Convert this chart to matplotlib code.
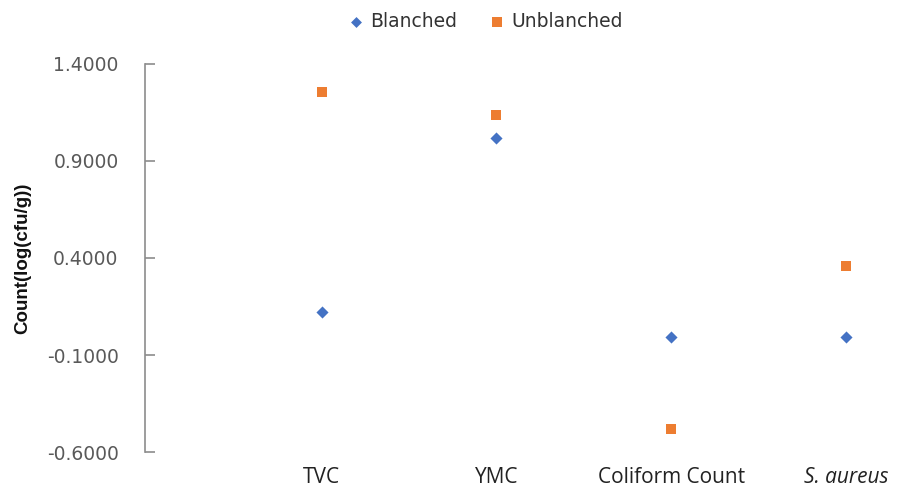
import matplotlib
matplotlib.use("Agg")
import matplotlib.pyplot as plt
from matplotlib.ticker import FixedLocator, FuncFormatter

categories = ["TVC", "YMC", "Coliform Count", "S. aureus"]
blanched = [0.122, 1.019, -0.007, -0.007]
unblanched = [1.256, 1.137, -0.481, 0.359]
yticks = [-0.6, -0.1, 0.4, 0.9, 1.4]

blue = "#4472C4"
orange = "#ED7D31"

fig = plt.figure(figsize=(9.06, 4.91), dpi=100)
ax = fig.add_axes([0.160, 0.0794, 0.830, 0.7903])

xs = list(range(1, len(categories) + 1))
ax.scatter(xs, blanched, marker="D", s=38, color=blue, label="Blanched", zorder=3, linewidths=0)
ax.scatter(xs, unblanched, marker="s", s=60, color=orange, label="Unblanched", zorder=3, linewidths=0)

ax.set_xlim(-0.01, 4.29)
ax.set_ylim(-0.6, 1.4)
ax.yaxis.set_major_locator(FixedLocator(yticks))
ax.yaxis.set_major_formatter(FuncFormatter(lambda v, p: f"{v:.4f}"))
ax.set_xticks(xs)
ax.set_xticklabels(categories, family="Open Sans", fontsize=15, color="#222222")
ax.get_xticklabels()[3].set_style("italic")

for s in ["top", "right", "bottom"]:
    ax.spines[s].set_visible(False)
ax.spines["left"].set_color("#8c8c8c")
ax.spines["left"].set_linewidth(1.2)
ax.tick_params(axis="y", direction="in", length=7, width=1.2, color="#8c8c8c",
               pad=19, labelsize=13.5, labelcolor="#595959")
ax.tick_params(axis="x", length=0, pad=11)

ax.set_ylabel("Count(log(cfu/g))", family=["Liberation Sans Narrow", "Liberation Sans", "DejaVu Sans"],
              fontweight="bold", fontsize=13.5, color="#111111", labelpad=11)

leg = fig.legend(loc="upper center", bbox_to_anchor=(0.535, 1.01), ncol=2, frameon=False,
                 fontsize=13.5, handletextpad=0.25, columnspacing=1.6, markerscale=0.9,
                 handlelength=1.0)
for t in leg.get_texts():
    t.set_color("#333333")

fig.savefig("out.png", dpi=100)
